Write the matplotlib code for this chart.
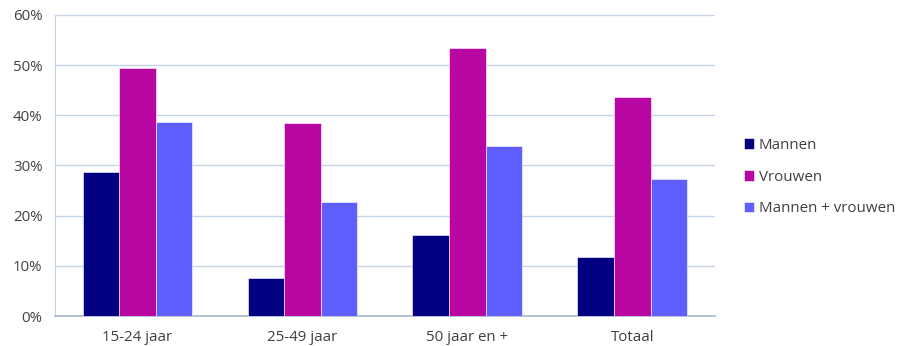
import numpy as np
import matplotlib.pyplot as plt

# waarden (%)
categories = ["15-24 jaar", "25-49 jaar", "50 jaar en +", "Totaal"]
mannen = [28.8, 7.5, 16.1, 11.7]
vrouwen = [49.4, 38.5, 53.4, 43.6]
totaal = [38.7, 22.7, 33.9, 27.3]
series_names = ["Mannen", "Vrouwen", "Mannen + vrouwen"]
colors = ["#000080", "#B806A2", "#5F5FFF"]

plt.rcParams["font.family"] = ["Open Sans", "DejaVu Sans"]
text_color = "#404040"

fig = plt.figure(figsize=(8.97, 3.46), dpi=100)
ax = fig.add_axes([0.0613, 0.0867, 0.7357, 0.87])

x = np.arange(len(categories))
w = 0.222
for i, (vals, name, c) in enumerate(zip([mannen, vrouwen, totaal], series_names, colors)):
    ax.bar(x + (i - 1) * w, vals, width=w, color=c, label=name, zorder=3,
           edgecolor="white", linewidth=0.4)

ax.set_xlim(-0.5, len(categories) - 0.5)
ax.set_ylim(0, 60)
ax.set_yticks(range(0, 61, 10))
ax.set_yticklabels([f"{v}%" for v in range(0, 61, 10)])
ax.set_xticks(x)
ax.set_xticklabels(categories)
ax.tick_params(length=0, labelsize=10.8, labelcolor=text_color)
ax.tick_params(axis="y", pad=9)
ax.tick_params(axis="x", pad=10)

ax.grid(axis="y", color="#C5D4E8", linewidth=1, zorder=0)
for s in ["top", "right"]:
    ax.spines[s].set_visible(False)
ax.spines["left"].set_color("#C5D4E8")
ax.spines["bottom"].set_color("#A9B8CC")
ax.spines["bottom"].set_linewidth(1.2)

fig.legend(loc="center left", bbox_to_anchor=(0.814, 0.488), frameon=False,
           fontsize=10.9, labelcolor=text_color, handlelength=0.7, handleheight=0.7,
           handletextpad=0.3, labelspacing=1.1)

fig.savefig("out.png", dpi=100)
